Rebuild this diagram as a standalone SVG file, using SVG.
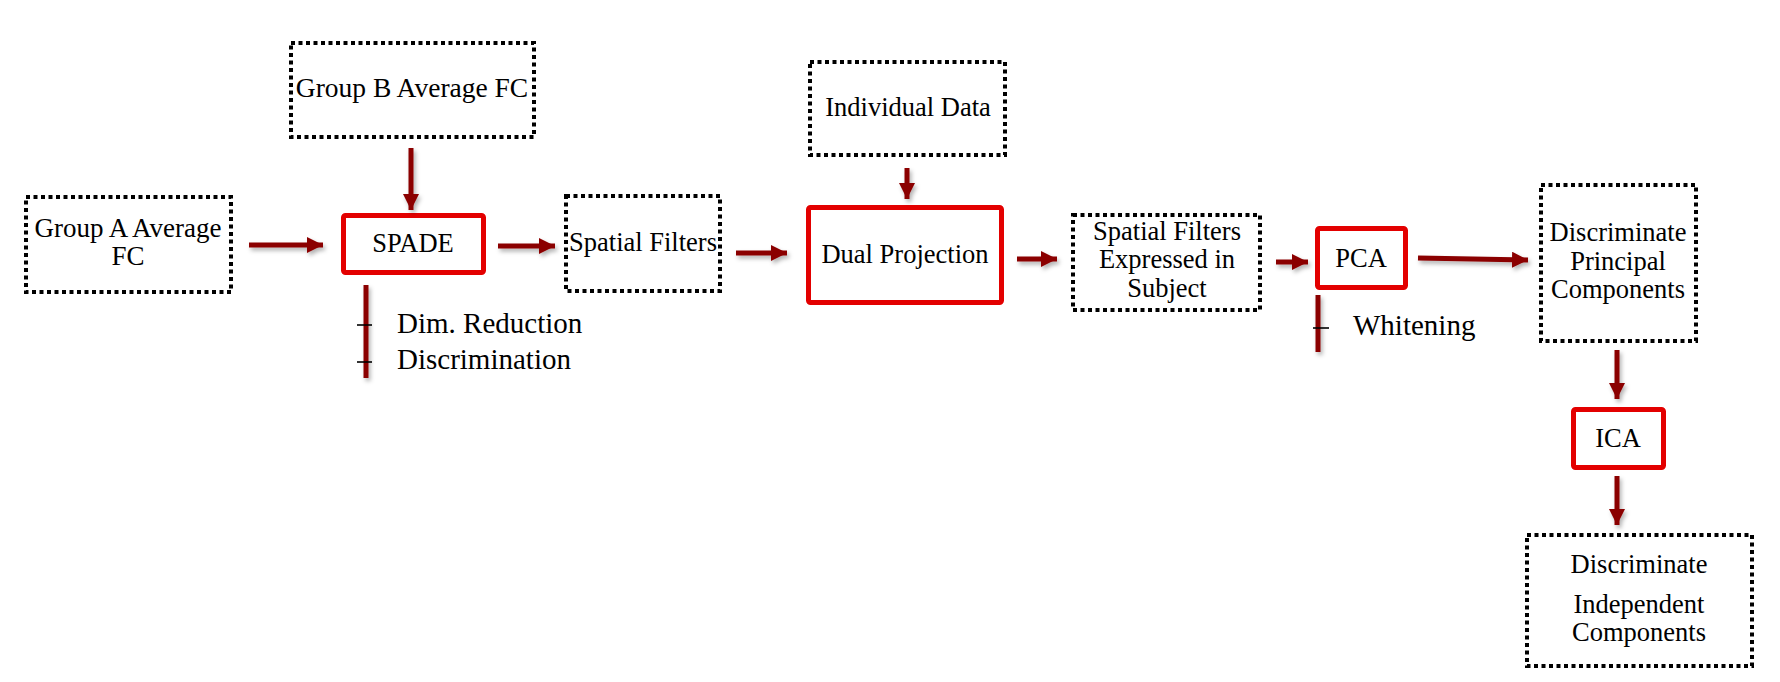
<svg xmlns="http://www.w3.org/2000/svg" width="1780" height="682" viewBox="0 0 1780 682">
<style>
.dot{fill:none;stroke:#000;stroke-width:4;stroke-dasharray:4 3.5}
.red{fill:none;stroke:#E30000;stroke-width:5}
.t{font-family:"Liberation Serif","Times New Roman",serif;font-size:26.5px;fill:#000;text-anchor:middle}
.s{font-family:"Liberation Serif","Times New Roman",serif;font-size:29px;fill:#000}
.arr{stroke:#8B0000;stroke-width:5;fill:none;marker-end:url(#ah)}
.bar{stroke:#8B0000;stroke-width:5;fill:none}
.tick{stroke:#000;stroke-width:1.6}
</style>
<defs>
<marker id="ah" markerUnits="userSpaceOnUse" markerWidth="17" markerHeight="17" refX="16" refY="8" orient="auto" viewBox="0 0 17 17">
<path d="M0,0 L16,8 L0,16 z" fill="#8B0000"/>
</marker>
<filter id="sh" x="-20%" y="-20%" width="140%" height="140%">
<feDropShadow dx="2" dy="3" stdDeviation="2" flood-color="#000" flood-opacity="0.3"/>
</filter>
</defs>
<rect width="1780" height="682" fill="#fff"/>

<g id="groupA"><rect class="dot" x="26" y="197" width="205" height="95"/><text class="t" x="128" y="237" style="font-size:27px">Group A Average</text><text class="t" x="128" y="265" style="font-size:27px">FC</text></g>
<g id="groupB"><rect class="dot" x="291" y="43" width="243" height="94"/><text class="t" x="412" y="97" style="font-size:27.5px">Group B Average FC</text></g>
<g id="spade"><rect class="red" x="343.5" y="215.5" width="140" height="57" rx="2"/><text class="t" x="413" y="252">SPADE</text></g>
<g id="spatialFilters"><rect class="dot" x="566" y="196" width="154" height="95"/><text class="t" x="643" y="251">Spatial Filters</text></g>
<g id="individualData"><rect class="dot" x="810" y="62" width="195" height="93"/><text class="t" x="908" y="116">Individual Data</text></g>
<g id="dualProjection"><rect class="red" x="808.5" y="207.5" width="193" height="95" rx="2"/><text class="t" x="905" y="263">Dual Projection</text></g>
<g id="sfes"><rect class="dot" x="1073" y="215" width="187" height="95"/><text class="t" x="1167" y="240">Spatial Filters</text><text class="t" x="1167" y="268">Expressed in</text><text class="t" x="1167" y="297">Subject</text></g>
<g id="pca"><rect class="red" x="1317.5" y="228.5" width="88" height="59" rx="2"/><text class="t" x="1361" y="267">PCA</text></g>
<g id="dpc"><rect class="dot" x="1541" y="185" width="155" height="156"/><text class="t" x="1618" y="241">Discriminate</text><text class="t" x="1618" y="270">Principal</text><text class="t" x="1618" y="298">Components</text></g>
<g id="ica"><rect class="red" x="1573.5" y="409.5" width="90" height="58" rx="2"/><text class="t" x="1618" y="447">ICA</text></g>
<g id="dic"><rect class="dot" x="1527" y="535" width="225" height="131"/><text class="t" x="1639" y="573">Discriminate</text><text class="t" x="1639" y="613">Independent</text><text class="t" x="1639" y="641">Components</text></g>

<g id="spadeNotes"><text class="s" x="397" y="333">Dim. Reduction</text><text class="s" x="397" y="369">Discrimination</text></g>
<g id="pcaNotes"><text class="s" x="1353" y="335">Whitening</text></g>

<g id="connectors" filter="url(#sh)">
<line class="arr" x1="249" y1="245" x2="323" y2="245"/>
<line class="arr" x1="411" y1="148" x2="411" y2="210"/>
<line class="arr" x1="498" y1="246" x2="555" y2="246"/>
<line class="arr" x1="736" y1="253" x2="787" y2="253"/>
<line class="arr" x1="907" y1="168" x2="907" y2="199"/>
<line class="arr" x1="1017" y1="259" x2="1057" y2="259"/>
<line class="arr" x1="1276" y1="262" x2="1308" y2="262"/>
<line class="arr" x1="1418" y1="258" x2="1528" y2="260"/>
<line class="arr" x1="1617" y1="350" x2="1617" y2="399"/>
<line class="arr" x1="1617" y1="476" x2="1617" y2="525"/>
<line class="bar" x1="366" y1="285" x2="366" y2="378"/>
<line class="bar" x1="1318" y1="295" x2="1318" y2="352"/>
</g>
<g id="ticks">
<line class="tick" x1="357" y1="325" x2="372" y2="325"/>
<line class="tick" x1="357" y1="362" x2="372" y2="362"/>
<line class="tick" x1="1313" y1="328" x2="1329" y2="328"/>
</g>
</svg>
